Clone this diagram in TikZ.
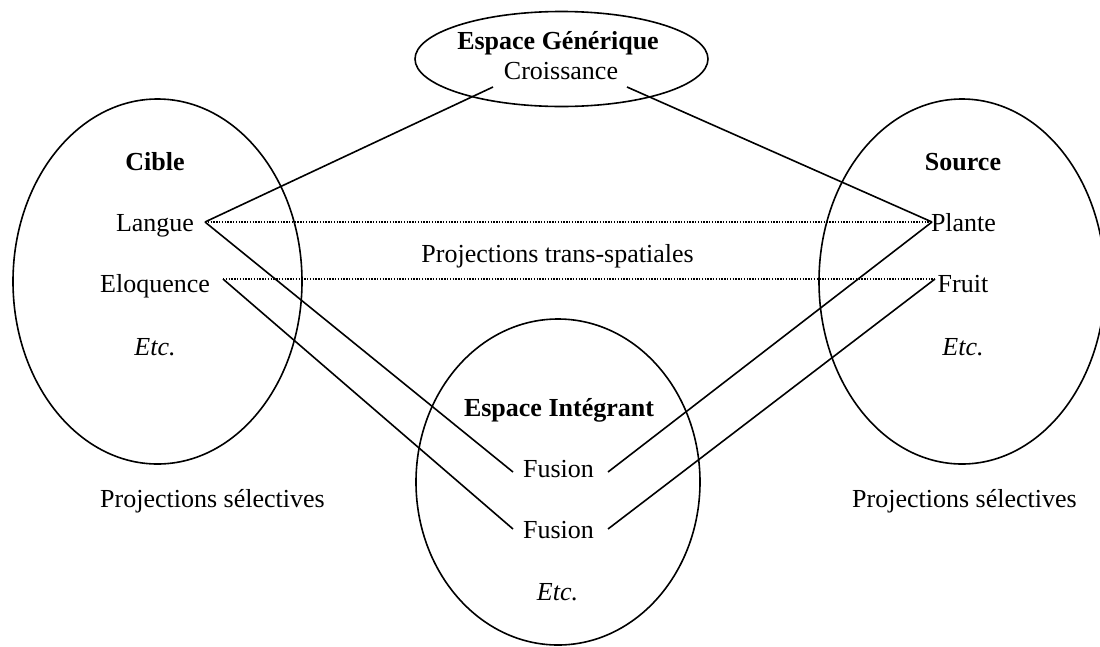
\documentclass[tikz,border=0pt]{standalone}
\usepackage{fontspec}
\setmainfont{Liberation Serif}
\usetikzlibrary{shapes.geometric}
\begin{document}
\begin{tikzpicture}[x=1pt,y=-1pt,
  space/.style={draw, ellipse, line width=1.6pt, inner sep=0pt, outer sep=0pt},
  lbl/.style={anchor=base, inner sep=0pt, font=\fontsize{26}{31}\selectfont},
  head/.style={lbl, font=\fontsize{26}{31}\selectfont\bfseries},
  etc/.style={lbl, font=\fontsize{26}{31}\selectfont\itshape},
  link/.style={line width=1.6pt},
  proj/.style={line width=1.3pt, dash pattern=on 1.3pt off 1.5pt}]
\useasboundingbox (0,0) rectangle (1100,646);

% the four mental spaces
\node[space, minimum width=293pt, minimum height=95pt]  (generique) at (561.5,59) {};
\node[space, minimum width=289pt, minimum height=365pt] (cible)     at (157.5,281.5) {};
\node[space, minimum width=286pt, minimum height=365pt] (source)    at (962,281.5) {};
\node[space, minimum width=284pt, minimum height=326pt] (integrant) at (558,482) {};

% generic space
\node[head] (gen-title)  at (558,49.3) {Espace Générique};
\node[lbl]  (croissance) at (561,79)   {Croissance};

% target space
\node[head] (cible-title) at (155,170.7) {Cible};
\node[lbl]  (langue)      at (155,231.7) {Langue};
\node[lbl]  (eloquence)   at (155,292.7) {Eloquence};
\node[etc]  (cible-etc)   at (155,355)   {Etc.};

% source space
\node[head] (source-title) at (963,170.7) {Source};
\node[lbl]  (plante)       at (963.5,231.7) {Plante};
\node[lbl]  (fruit)        at (963,292.7) {Fruit};
\node[etc]  (source-etc)   at (963,355)   {Etc.};

% blended space
\node[head] (int-title) at (559,416)     {Espace Intégrant};
\node[lbl]  (fusion1)   at (558.5,477.3) {Fusion};
\node[lbl]  (fusion2)   at (558.5,538.3) {Fusion};
\node[etc]  (int-etc)   at (557.5,600)   {Etc.};

% captions
\node[lbl] (trans)     at (557.6,262.7) {Projections trans-spatiales};
\node[lbl] (sel-left)  at (212.5,507.3) {Projections sélectives};
\node[lbl] (sel-right) at (964.5,507.3) {Projections sélectives};

% connector ends
\coordinate (gen-l)    at (493,87);
\coordinate (gen-r)    at (627,87);
\coordinate (langue-r) at (205,222);
\coordinate (eloq-r)   at (223,279);
\coordinate (plante-l) at (932,222);
\coordinate (fruit-l)  at (935,279);
\coordinate (fus1-l)   at (513,472);
\coordinate (fus1-r)   at (608,472);
\coordinate (fus2-l)   at (513,529);
\coordinate (fus2-r)   at (608,529);

% projections
\draw[link] (langue-r) -- (gen-l);
\draw[link] (gen-r) -- (plante-l);
\draw[link] (langue-r) -- (fus1-l);
\draw[link] (eloq-r) -- (fus2-l);
\draw[link] (fus1-r) -- (plante-l);
\draw[link] (fus2-r) -- (fruit-l);
\draw[proj] (langue-r) -- (plante-l);
\draw[proj] (eloq-r) -- (fruit-l);
\end{tikzpicture}
\end{document}
